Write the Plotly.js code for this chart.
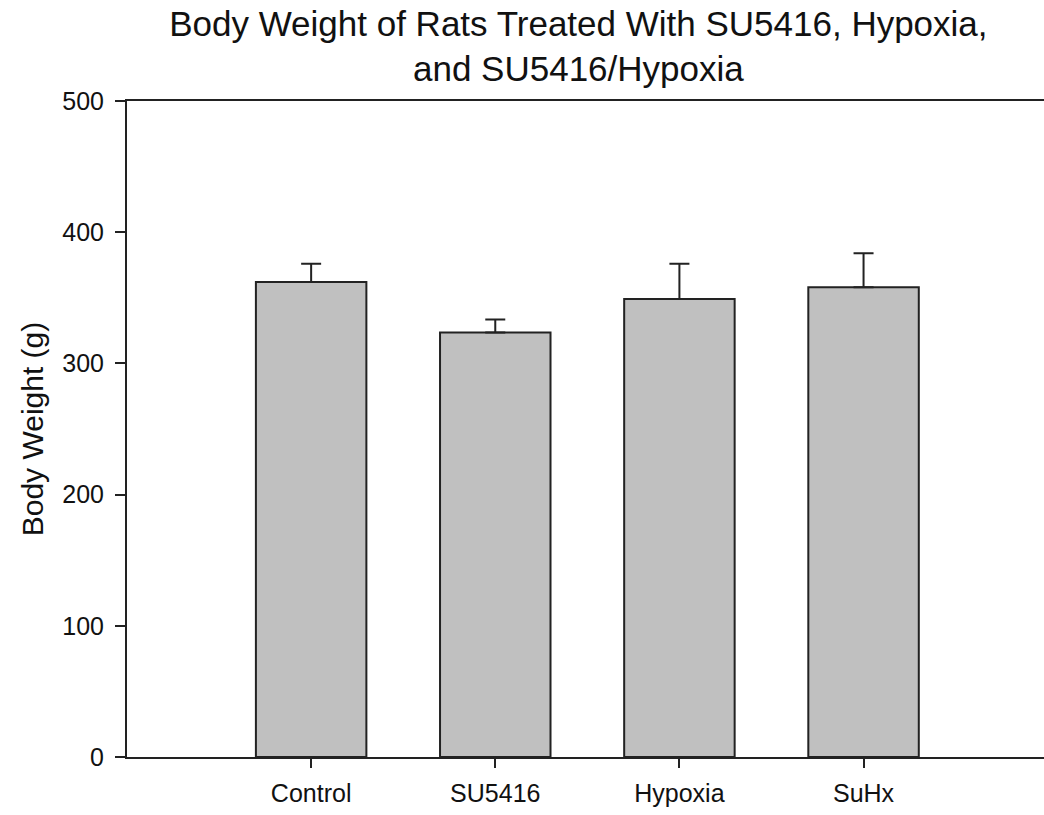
<!DOCTYPE html>
<html>
<head>
<meta charset="utf-8">
<script src="https://cdn.plot.ly/plotly-3.0.1.min.js"></script>
<style>
  html, body { margin: 0; padding: 0; background: #fff; }
  #chart { width: 1044px; height: 815px; }
</style>
</head>
<body>
<div id="chart"></div>
<script>
// Mean body weight per treatment group, with upper SEM bars
const groups = ["Control", "SU5416", "Hypoxia", "SuHx"];
const bodyWeight = [362, 323.5, 349, 358];
const errorUpper = [14, 10, 27, 26];
const yTicks = [0, 100, 200, 300, 400, 500];

const ink = "#222222";
const font = "Liberation Sans, Arial, sans-serif";

const trace = {
  type: "bar",
  x: groups.map((_, i) => i),
  y: bodyWeight,
  width: 0.6,
  marker: { color: "#c0c0c0", line: { color: ink, width: 2 } },
  error_y: {
    type: "data",
    symmetric: false,
    array: errorUpper,
    arrayminus: groups.map(() => 0),
    color: ink,
    thickness: 2,
    width: 10
  },
  hoverinfo: "skip"
};

const layout = {
  width: 1044,
  height: 815,
  paper_bgcolor: "#ffffff",
  plot_bgcolor: "#ffffff",
  showlegend: false,
  margin: { l: 127, r: 0, t: 101, b: 58 },
  font: { family: font, color: "#111111" },
  title: {
    text: "Body Weight of Rats Treated With SU5416, Hypoxia,<br>and SU5416/Hypoxia",
    font: { family: font, size: 35, color: "#111111" },
    x: 0.554,
    xanchor: "center",
    xref: "container",
    y: 0.956,
    yref: "container",
    yanchor: "top"
  },
  xaxis: {
    range: [-1, 3.98],
    tickmode: "array",
    tickvals: groups.map((_, i) => i),
    ticktext: groups,
    ticks: "outside",
    ticklen: 9,
    tickwidth: 2,
    tickcolor: ink,
    ticklabelstandoff: 4,
    tickfont: { family: font, size: 25, color: "#111111" },
    showline: true,
    linecolor: ink,
    linewidth: 2,
    mirror: true,
    showgrid: false,
    zeroline: false,
    fixedrange: true
  },
  yaxis: {
    range: [0, 500],
    tickmode: "array",
    tickvals: yTicks,
    ticktext: yTicks.map(String),
    ticks: "outside",
    ticklen: 10,
    tickwidth: 2,
    tickcolor: ink,
    ticklabelstandoff: 6,
    tickfont: { family: font, size: 25, color: "#111111" },
    showline: true,
    linecolor: ink,
    linewidth: 2,
    mirror: false,
    showgrid: false,
    zeroline: false,
    fixedrange: true,
    title: {
      text: "Body Weight (g)",
      font: { family: font, size: 30, color: "#111111" },
      standoff: 10
    }
  },
  bargap: 0.4
};

Plotly.newPlot("chart", [trace], layout, { staticPlot: true, displayModeBar: false });
</script>
</body>
</html>
